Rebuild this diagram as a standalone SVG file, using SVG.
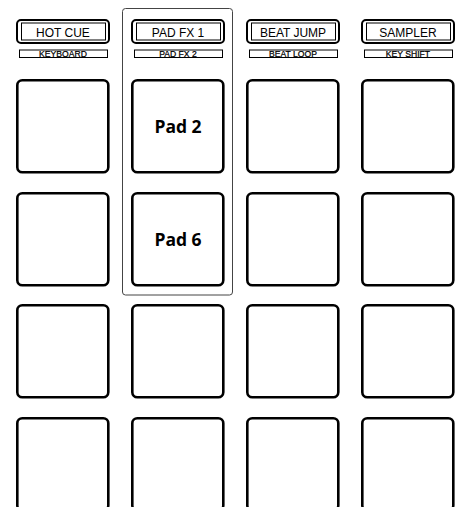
<svg xmlns="http://www.w3.org/2000/svg" width="459" height="507" viewBox="0 0 459 507">
<style>
.pad{fill:#fff;stroke:#000;stroke-width:2.6}
.btn{fill:#fff;stroke:#000;stroke-width:2}
.inner{fill:none;stroke:#000;stroke-width:1}
.sub{fill:#fff;stroke:#000;stroke-width:1}
.bt{font-family:"Liberation Sans",Arial,sans-serif;font-size:12px;fill:#000;text-anchor:middle}
.st{font-family:"Liberation Sans",Arial,sans-serif;font-size:8.6px;fill:#000;stroke:#000;stroke-width:0.25;text-anchor:middle}
.pt{font-family:"Open Sans","Noto Sans",sans-serif;font-weight:bold;font-size:17.5px;fill:#000;text-anchor:middle}
.frame{fill:none;stroke:#444;stroke-width:1}
</style>
<rect width="459" height="507" fill="#fff"/>
<g id="frame"><rect class="frame" x="122.5" y="8.5" width="110" height="286.5" rx="3"/></g>
<g id="btn-hotcue">
<rect class="btn" x="17" y="20" width="92" height="23" rx="4"/>
<rect class="inner" x="21.5" y="23" width="84" height="17"/>
<text class="bt" x="63" y="36.5">HOT CUE</text>
<rect class="sub" x="19.5" y="50" width="88" height="7.5"/>
<text class="st" x="63" y="56.9">KEYBOARD</text>
</g>
<g id="btn-padfx">
<rect class="btn" x="132" y="20" width="92" height="23" rx="4"/>
<rect class="inner" x="136.5" y="23" width="84" height="17"/>
<text class="bt" x="178" y="36.5">PAD FX 1</text>
<rect class="sub" x="134.5" y="50" width="88" height="7.5"/>
<text class="st" x="178" y="56.9">PAD FX 2</text>
</g>
<g id="btn-beatjump">
<rect class="btn" x="247" y="20" width="92" height="23" rx="4"/>
<rect class="inner" x="251.5" y="23" width="84" height="17"/>
<text class="bt" x="293" y="36.5">BEAT JUMP</text>
<rect class="sub" x="249.5" y="50" width="88" height="7.5"/>
<text class="st" x="293" y="56.9">BEAT LOOP</text>
</g>
<g id="btn-sampler">
<rect class="btn" x="362" y="20" width="92" height="23" rx="4"/>
<rect class="inner" x="366.5" y="23" width="84" height="17"/>
<text class="bt" x="408" y="36.5">SAMPLER</text>
<rect class="sub" x="364.5" y="50" width="88" height="7.5"/>
<text class="st" x="408" y="56.9">KEY SHIFT</text>
</g>
<g id="pad1"><rect class="pad" x="17.3" y="80.3" width="91" height="92" rx="5"/></g>
<g id="pad2"><rect class="pad" x="132.3" y="80.3" width="91" height="92" rx="5"/><text class="pt" x="178" y="132.5">Pad 2</text></g>
<g id="pad3"><rect class="pad" x="247.3" y="80.3" width="91" height="92" rx="5"/></g>
<g id="pad4"><rect class="pad" x="362.3" y="80.3" width="91" height="92" rx="5"/></g>
<g id="pad5"><rect class="pad" x="17.3" y="193.3" width="91" height="92" rx="5"/></g>
<g id="pad6"><rect class="pad" x="132.3" y="193.3" width="91" height="92" rx="5"/><text class="pt" x="178" y="245.5">Pad 6</text></g>
<g id="pad7"><rect class="pad" x="247.3" y="193.3" width="91" height="92" rx="5"/></g>
<g id="pad8"><rect class="pad" x="362.3" y="193.3" width="91" height="92" rx="5"/></g>
<g id="pad9"><rect class="pad" x="17.3" y="305.3" width="91" height="92" rx="5"/></g>
<g id="pad10"><rect class="pad" x="132.3" y="305.3" width="91" height="92" rx="5"/></g>
<g id="pad11"><rect class="pad" x="247.3" y="305.3" width="91" height="92" rx="5"/></g>
<g id="pad12"><rect class="pad" x="362.3" y="305.3" width="91" height="92" rx="5"/></g>
<g id="pad13"><rect class="pad" x="17.3" y="418.3" width="91" height="92" rx="5"/></g>
<g id="pad14"><rect class="pad" x="132.3" y="418.3" width="91" height="92" rx="5"/></g>
<g id="pad15"><rect class="pad" x="247.3" y="418.3" width="91" height="92" rx="5"/></g>
<g id="pad16"><rect class="pad" x="362.3" y="418.3" width="91" height="92" rx="5"/></g>
<g id="connectors"></g>
</svg>
